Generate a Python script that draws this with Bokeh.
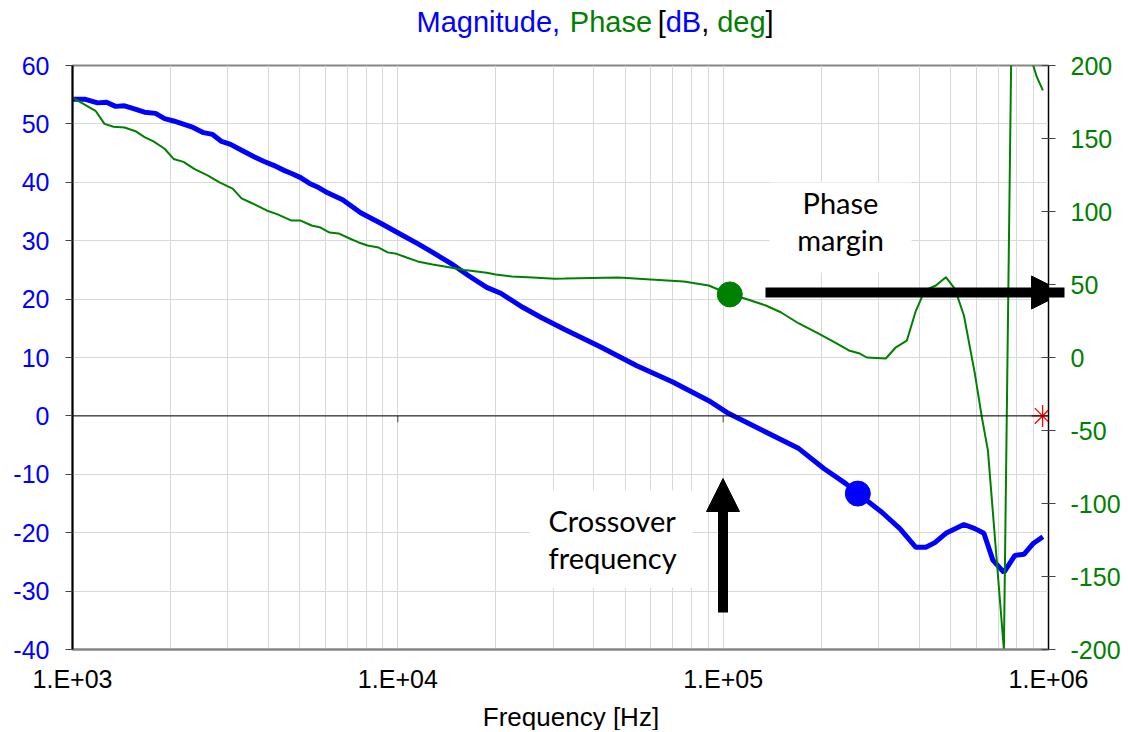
from bokeh.plotting import figure
from bokeh.layouts import column
from bokeh.models import (Range1d, LinearAxis, FixedTicker, Span, Label, Arrow, NormalHead)
from bokeh.core.properties import value
from bokeh.embed import file_html
from bokeh.resources import INLINE

# ---------------- data ----------------
mag_freq = [1000, 1096, 1194, 1272, 1356, 1445, 1540, 1665, 1800, 1919,
            2045, 2180, 2323, 2528, 2695, 2872, 3061, 3309, 3577, 3867,
            4151, 4487, 4714, 5024, 5355, 5707, 6082, 6765, 7686, 8917,
            10128, 11506, 12794, 14843, 16507, 18757, 20713, 24201, 27487, 32590,
            42034, 54248, 69984, 90308, 102588, 132373, 170850, 203880, 238230, 259360,
            307460, 349290, 391120, 419760, 447420, 483660, 549570, 593810, 632940, 674530,
            729250, 788320, 840280, 895390, 961090]
mag_db = [54.2, 54.2, 53.6, 53.7, 53.0, 53.1, 52.6, 52.0, 51.8, 50.9,
          50.5, 50.0, 49.5, 48.5, 48.2, 47.0, 46.5, 45.5, 44.5, 43.6,
          42.9, 42.0, 41.5, 40.8, 39.8, 39.1, 38.2, 37.0, 34.8, 32.9,
          31.2, 29.5, 28.0, 25.8, 24.0, 22.0, 21.0, 18.6, 16.9, 14.8,
          11.8, 8.6, 5.8, 2.6, 0.6, -2.5, -5.6, -9.0, -11.6, -13.3,
          -16.5, -19.3, -22.5, -22.5, -21.7, -20.1, -18.6, -19.3, -20.1, -24.7,
          -26.8, -23.9, -23.7, -21.9, -20.7]

ph_freq = [1000, 1177, 1254, 1337, 1445, 1562, 1665, 1774, 1919, 2045,
           2194, 2373, 2601, 2831, 3105, 3309, 3577, 3951, 4270, 4714,
           5024, 5432, 5789, 6169, 6577, 7110, 7577, 8074, 8730, 9303,
           9915, 10643, 11506, 12794, 14535, 16049, 18757, 19984, 22383, 25971,
           30362, 32590, 47750, 59905, 75667, 90308, 104790, 116500, 135210, 150340,
           170850, 194010, 220350, 243370, 263030, 276470, 316230, 339500, 366940, 391120,
           416840, 450630, 483660, 515520, 549570, 593810, 624060, 651220, 729250, 799490,
           883100, 921300, 961090]
ph_deg = [178, 169, 160, 158, 157.5, 155, 151, 148, 143, 136,
          134, 129, 124.7, 120, 115.7, 109, 105.5, 100.7, 98, 93.8,
          93.8, 90.4, 89, 85.6, 85, 81.5, 78.8, 76.7, 75.3, 72,
          71, 68.5, 65.8, 63.7, 61.6, 60, 58, 56.8, 55.5, 54.8,
          54, 54.1, 54.8, 53.4, 52, 49.3, 43.2, 40.4, 35.6, 31,
          23.3, 17, 10.3, 4.8, 2.7, 0, -0.7, 7, 11.6, 32,
          46, 49.3, 55, 47, 28.8, -11, -41, -63.6, -200, 520,
          205, 192, 183]

pm_freq = [104790]      # phase-margin point
pm_deg = [43.2]
gm_freq = [259360]      # magnitude marker
gm_db = [-13.3]
star_freq = [959000]
star_db = [0]

x_ticks = [1e3, 1e4, 1e5, 1e6]
x_tick_labels = ["1.E+03", "1.E+04", "1.E+05", "1.E+06"]
mag_ticks = [-40, -30, -20, -10, 0, 10, 20, 30, 40, 50, 60]
phase_ticks = [-200, -150, -100, -50, 0, 50, 100, 150, 200]

title_parts = ["Magnitude,", "Phase", "[", "dB", ",", "deg", "]"]
title_colors = ["#0000ff", "#008000", "black", "#0000ff", "black", "#008000", "black"]
x_title = "Frequency [Hz]"

BLUE = "#0000ff"
GREEN = "#008000"

# ---------------- layout (page px) ----------------
TITLE_H = 48
FL, FW, FT, FH = 72, 976, 65, 584     # frame left/width/top/height in page px
MAIN_BOTTOM = 46
XLAB_H = 35
DEC = FW / 3.0


def hz_at(px):
    return 1e3 * 10 ** ((px - FL) / DEC)


def db_at(py):
    return 60 - (py - FT) * 100.0 / FH


def strip(h):
    f = figure(width=1112, height=h, x_range=Range1d(FL, FL + FW), y_range=Range1d(h, 0),
               x_axis_location=None, y_axis_location=None,
               output_backend="svg", toolbar_location=None,
               min_border=0, min_border_left=0, min_border_right=0,
               min_border_top=0, min_border_bottom=0)
    f.xgrid.visible = False
    f.ygrid.visible = False
    f.outline_line_color = None
    f.background_fill_color = "white"
    f.border_fill_color = "white"
    return f


# ---- title strip (x in page px, y in strip px; text centred vertically) ----
tf = strip(TITLE_H)
title_px = [420, 575, 664, 672, 708, 724, 773]
tf.text(x=title_px, y=[21] * len(title_px), text=title_parts, text_color=title_colors,
        text_font=value("Liberation Sans"), text_font_size=value("29px"),
        text_align=value("left"), text_baseline=value("middle"))

# ---- main chart ----
p = figure(frame_width=FW, frame_height=FH, x_axis_type="log",
           x_range=Range1d(1e3, 1e6), y_range=Range1d(-40, 60),
           output_backend="svg", toolbar_location=None,
           min_border_left=FL, min_border_right=10,
           min_border_top=FT - TITLE_H, min_border_bottom=MAIN_BOTTOM)
p.extra_y_ranges = {"phase": Range1d(-200, 200)}
p.background_fill_color = "white"
p.border_fill_color = "white"
p.outline_line_color = "#868686"
p.outline_line_width = 2

grid_x = [m * d for d in [1e3, 1e4, 1e5] for m in range(1, 10)] + [1e6]
p.xgrid.ticker = FixedTicker(ticks=grid_x)
p.xgrid.grid_line_color = "#d9d9d9"
p.ygrid.ticker = FixedTicker(ticks=mag_ticks)
p.ygrid.grid_line_color = "#d9d9d9"

xa = p.xaxis[0]
xa.ticker = FixedTicker(ticks=x_ticks)
xa.major_label_overrides = {t: l for t, l in zip(x_ticks, x_tick_labels)}
xa.major_tick_line_color = None
xa.minor_tick_line_color = None
xa.axis_line_color = "#868686"
xa.axis_line_width = 2
xa.major_label_text_font = "Liberation Sans"
xa.major_label_text_font_size = "25px"
xa.major_label_text_color = "black"
xa.major_label_standoff = 9

ya = p.yaxis[0]
ya.ticker = FixedTicker(ticks=mag_ticks)
ya.major_label_overrides = {t: str(t) for t in mag_ticks}
ya.axis_line_color = "black"
ya.axis_line_width = 2
ya.major_tick_out = 7
ya.major_tick_in = 0
ya.major_tick_line_color = "#444444"
ya.minor_tick_line_color = None
ya.major_label_text_font = "Liberation Sans"
ya.major_label_text_font_size = "25px"
ya.major_label_text_color = BLUE
ya.major_label_standoff = 16

ra = LinearAxis(y_range_name="phase", ticker=FixedTicker(ticks=phase_ticks))
ra.major_label_overrides = {t: str(t) for t in phase_ticks}
ra.axis_line_color = "black"
ra.axis_line_width = 1
ra.major_tick_out = 7
ra.major_tick_in = 7
ra.major_tick_line_color = "#444444"
ra.minor_tick_line_color = None
ra.major_label_text_font = "Liberation Sans"
ra.major_label_text_font_size = "25px"
ra.major_label_text_color = GREEN
ra.major_label_standoff = 15
p.add_layout(ra, "right")

p.add_layout(Span(location=0, dimension="width", line_color="black", line_width=1))
p.segment(x0=x_ticks, y0=[0] * len(x_ticks), x1=x_ticks, y1=[-1.1] * len(x_ticks),
          line_color="#444444", line_width=1)

# white text boxes
p.quad(left=[hz_at(769), hz_at(529)], right=[hz_at(911), hz_at(692)],
       top=[db_at(182), db_at(490)], bottom=[db_at(272), db_at(587)],
       fill_color="white", line_color=None)

p.line(mag_freq, mag_db, line_color=BLUE, line_width=5)
p.line(ph_freq, ph_deg, line_color=GREEN, line_width=2, y_range_name="phase")

p.scatter(gm_freq, gm_db, size=25, fill_color=BLUE, line_color=BLUE)
p.scatter(pm_freq, pm_deg, size=25, fill_color=GREEN, line_color=GREEN, y_range_name="phase")
p.scatter(star_freq, star_db, marker="asterisk", size=22, line_color="red", line_width=1.3)

p.add_layout(Arrow(end=NormalHead(size=33, fill_color="black", line_color="black"),
                   x_start=hz_at(765), y_start=db_at(292), x_end=hz_at(1064), y_end=db_at(292),
                   line_color="black", line_width=10))
p.add_layout(Arrow(end=NormalHead(size=33, fill_color="black", line_color="black"),
                   x_start=hz_at(722.5), y_start=db_at(612), x_end=hz_at(722.5), y_end=db_at(478),
                   line_color="black", line_width=10))

for txt, x, y, al in [("Phase", 840, 202, "center"), ("margin", 840, 239, "center"),
                      ("Crossover", 548, 520, "left"), ("frequency", 548, 557, "left")]:
    p.add_layout(Label(x=hz_at(x), y=db_at(y), text=txt, text_font="Lato",
                       text_font_size="29px", text_color="black",
                       text_align=al, text_baseline="middle"))

# ---- x axis title strip ----
xf = strip(XLAB_H)
xlab_top = FT + FH + MAIN_BOTTOM
xf.text(x=[487], y=[716 - xlab_top], text=[x_title], text_color="black",
        text_font=value("Liberation Sans"), text_font_size=value("26px"),
        text_align=value("left"), text_baseline=value("middle"))

layout = column(tf, p, xf, spacing=0)
open("out.html", "w").write(file_html(layout, INLINE))
